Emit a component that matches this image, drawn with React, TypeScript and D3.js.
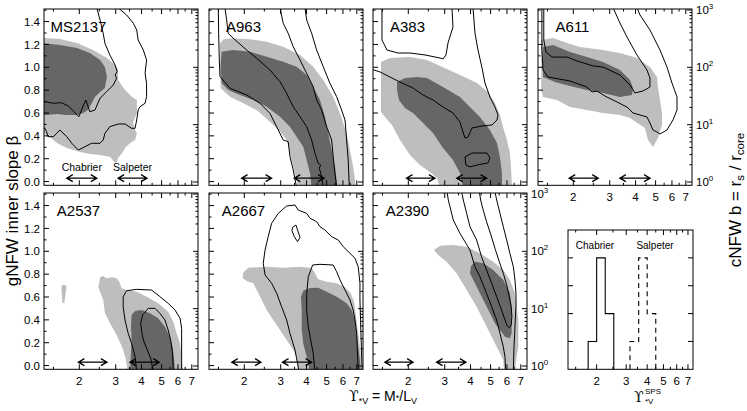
import React from "react";
import * as d3 from "d3";

type P = [number, number];

const LIGHT = "#bebebe";
const DARK = "#666666";
const FONT = "'Liberation Sans', Arial, Helvetica, sans-serif";
const SYMFONT = "'DejaVu Serif', 'Liberation Serif', serif";

// ---------- axis values ----------
const xTickValues = [2, 3, 4, 5, 6, 7];
const xMinorValues = [1.5, 2.5, 3.5, 4.5, 5.5, 6.5];
const betaTickValues = [0, 0.2, 0.4, 0.6, 0.8, 1.0, 1.2, 1.4];
const betaMinorValues = [0.1, 0.3, 0.5, 0.7, 0.9, 1.1, 1.3, 1.5];
const bTickValues = [1, 10, 100, 1000];
const bTickExponents = ["0", "1", "2", "3"];
const histCountTicks = [1, 2, 3, 4];

// ---------- MS2137 (gNFW) ----------
const ms2137Light: P[] = [[1.33,1.256],[1.61,1.247],[1.95,1.212],[2.33,1.151],[2.72,1.081],[2.98,1.02],[3.08,0.976],[3.08,0.889],[3.33,0.801],[3.6,0.74],[3.8,0.714],[3.8,0.652],[3.8,0.6],[3.64,0.521],[3.72,0.451],[3.8,0.425],[3.72,0.364],[3.52,0.337],[3.33,0.294],[3.22,0.25],[3.08,0.206],[3.04,0.171],[2.98,0.162],[2.82,0.215],[2.52,0.232],[2.25,0.241],[2.02,0.259],[1.74,0.294],[1.56,0.337],[1.44,0.39],[1.33,0.434]];
const ms2137Dark: P[] = [[1.33,1.212],[1.61,1.195],[1.95,1.169],[2.25,1.125],[2.52,1.064],[2.66,1.003],[2.72,0.915],[2.66,0.819],[2.52,0.784],[2.38,0.74],[2.3,0.688],[2.2,0.626],[2.09,0.6],[1.95,0.583],[1.74,0.583],[1.56,0.591],[1.4,0.583],[1.33,0.583]];
const ms2137Inner: P[] = [[2.43,1.52],[2.52,1.414],[2.61,1.297],[2.66,1.21],[2.81,1.108],[2.98,1.02],[3.05,0.961],[2.98,0.932],[3.03,0.904],[2.92,0.845],[2.71,0.786],[2.52,0.729],[2.38,0.626],[2.25,0.611],[2.15,0.714],[2.08,0.655],[1.99,0.568],[1.89,0.611],[1.77,0.661],[1.64,0.69],[1.5,0.685],[1.365,0.699],[1.3,0.7]];
const ms2137Outer: P[] = [[3.085,1.52],[3.39,1.457],[3.65,1.385],[3.79,1.326],[3.85,1.239],[4.08,1.151],[4.23,1.064],[4.16,0.947],[4.23,0.86],[4.23,0.743],[4.16,0.685],[3.93,0.655],[3.85,0.626],[3.79,0.539],[3.72,0.466],[3.58,0.466],[3.33,0.504],[3.085,0.504],[2.81,0.48],[2.66,0.422],[2.61,0.364],[2.52,0.335],[2.29,0.335],[2.13,0.305],[1.98,0.276],[1.84,0.335],[1.74,0.393],[1.61,0.451],[1.5,0.393],[1.41,0.393],[1.39,0.436],[1.365,0.466],[1.3,0.47]];
const ms2137Chab: P = [1.74, 2.43];
const ms2137Salp: P = [3.08, 4.25];

// ---------- A963 (gNFW) ----------
const a963Light: P[] = [[1.526,1.21],[1.588,1.245],[1.768,1.254],[2.131,1.245],[2.566,1.224],[3.085,1.18],[3.72,1.108],[4.308,1.005],[4.816,0.889],[5.38,0.743],[5.8,0.597],[6.25,0.422],[6.49,0.276],[6.72,0.13],[6.86,0.014],[6.93,-0.05],[3.645,-0.05],[3.58,0.014],[3.448,0.13],[3.326,0.247],[3.205,0.364],[2.976,0.436],[2.662,0.524],[2.295,0.626],[1.977,0.685],[1.706,0.743],[1.538,0.816],[1.526,1.005]];
const a963Dark: P[] = [[1.554,1.136],[1.768,1.151],[2.131,1.136],[2.566,1.093],[3.085,1.049],[3.58,1.005],[4.005,0.933],[4.308,0.83],[4.646,0.714],[4.91,0.568],[5.09,0.422],[5.29,0.276],[5.49,0.13],[5.593,0.014],[5.63,-0.05],[4.234,-0.05],[4.157,0.072],[4.005,0.189],[3.855,0.305],[3.58,0.393],[3.326,0.48],[2.976,0.568],[2.566,0.655],[2.209,0.714],[1.907,0.758],[1.672,0.801],[1.554,0.86],[1.538,1.005]];
const a963Line1: P[] = [[1.497,1.52],[1.503,1.297],[1.514,1.064],[1.526,0.918],[1.706,0.816],[2.053,0.758],[2.382,0.685],[2.662,0.597],[2.868,0.48],[3.085,0.364],[3.261,0.349],[3.326,0.218],[3.448,0.101],[3.58,-0.05]];
const a963Line2: P[] = [[1.613,1.52],[1.643,1.414],[1.672,1.297],[1.768,1.254],[2.053,1.151],[2.295,1.079],[2.662,0.976],[2.976,0.874],[3.205,0.772],[3.448,0.655],[3.72,0.568],[4.005,0.48],[4.234,0.364],[4.394,0.247],[4.555,0.16],[4.68,0.145],[4.61,0.116],[4.733,0.043],[4.816,-0.05]];
const a963Line3: P[] = [[2.976,1.52],[3.085,1.385],[3.261,1.297],[3.448,1.18],[3.72,1.064],[4.005,0.947],[4.308,0.83],[4.476,0.714],[4.733,0.626],[5.003,0.48],[5.29,0.364],[5.38,0.218],[5.49,0.072],[5.593,-0.05]];
const a963Line4: P[] = [[3.93,1.52],[4.005,1.414],[4.234,1.297],[4.476,1.151],[4.816,1.005],[5.19,0.86],[5.593,0.743],[5.91,0.626],[6.14,0.539],[6.25,0.364],[6.36,0.189],[6.44,-0.05]];
const a963Chab: P = [1.94, 2.71];
const a963Salp: P = [3.49, 4.86];

// ---------- A383 (gNFW) ----------
const a383Light: P[] = [[1.476,1.046],[1.63,1.081],[2.037,1.09],[2.462,1.064],[2.943,1.0],[3.555,0.933],[4.296,0.863],[4.857,0.784],[5.249,0.688],[5.55,0.583],[5.741,0.478],[6.0,0.364],[6.2,0.25],[6.27,0.145],[6.34,-0.05],[2.845,-0.05],[2.752,0.031],[2.546,0.084],[2.277,0.145],[2.037,0.233],[1.822,0.364],[1.667,0.495],[1.542,0.565],[1.476,0.609]];
const a383Dark: P[] = [[1.763,0.871],[1.928,0.906],[2.203,0.915],[2.462,0.906],[2.943,0.828],[3.555,0.74],[3.974,0.653],[4.44,0.565],[4.964,0.451],[5.37,0.338],[5.55,0.215],[5.674,0.075],[5.674,-0.05],[3.678,-0.05],[3.555,0.075],[3.29,0.189],[2.943,0.293],[2.633,0.425],[2.356,0.513],[2.108,0.6],[1.928,0.644],[1.803,0.714],[1.763,0.801]];
const a383LineA: P[] = [[1.492,1.52],[1.492,1.239],[1.578,1.151],[1.783,1.125],[2.037,1.125],[2.408,1.108],[2.845,1.081],[2.943,1.073],[3.043,1.108],[3.112,1.213],[3.29,1.353],[3.252,1.52]];
const a383LineB: P[] = [[4.111,1.52],[4.203,1.3],[4.346,1.151],[4.54,1.0],[4.697,0.863],[4.964,0.74],[5.249,0.653],[5.43,0.583],[5.37,0.539],[5.08,0.495],[4.54,0.486],[4.064,0.469],[3.888,0.39],[3.76,0.381],[3.678,0.434],[3.555,0.521],[3.29,0.6],[2.943,0.653],[2.633,0.714],[2.356,0.758],[2.108,0.819],[1.822,0.871],[1.63,0.915],[1.46,0.959],[1.365,0.976],[1.3,0.98]];
const a383Loop: P[] = [[3.76,0.215],[4.064,0.25],[4.8,0.25],[4.964,0.206],[4.857,0.163],[4.296,0.145],[3.974,0.128],[3.8,0.145]];
const a383Chab: P = [1.96, 2.69];
const a383Salp: P = [3.43, 4.78];

// ---------- A611 (cNFW, y = b) ----------
const a611Light: P[] = [[1.4,300],[1.595,325],[1.928,255],[2.155,226],[2.784,201],[3.363,178],[4.064,146],[4.697,101],[5.08,67.8],[5.136,45.4],[5.249,26.9],[5.37,16.0],[5.37,9.87],[5.136,5.85],[4.857,4.08],[4.595,5.4],[4.44,8.75],[3.76,13.1],[3.363,14.7],[2.784,16.0],[2.328,18.0],[1.928,20.3],[1.667,26.9],[1.428,30.4],[1.4,40.3]];
const a611Dark: P[] = [[1.428,226],[1.595,245],[1.928,185],[2.328,151],[2.784,124],[3.363,90],[3.76,60.1],[3.888,43.6],[3.843,32.9],[3.363,30.4],[2.784,35.7],[2.328,40.3],[1.928,47.3],[1.63,55.5],[1.428,67.8]];
const a611Inner: P[] = [[1.44,1100],[1.44,300],[1.476,185],[1.578,151],[1.865,151],[2.085,129],[2.491,106],[2.784,101],[3.363,73.5],[3.76,49.2],[3.974,35.7],[4.346,38.7],[4.697,45.4],[4.697,65.2],[4.54,90],[4.064,164],[3.635,338],[3.363,593],[3.112,1100]];
const a611Outer: P[] = [[1.41,1100],[1.41,201],[1.428,90],[1.509,67.8],[1.928,57.8],[2.328,45.4],[2.462,37.1],[2.604,38.7],[2.845,31.6],[3.112,26.9],[3.635,20.3],[3.888,16.0],[4.54,13.6],[4.697,10.7],[4.857,8.07],[5.08,7.45],[5.249,6.88],[5.678,8.07],[6.07,12.1],[6.347,18.0],[6.347,30.4],[6.0,53.3],[5.678,101],[5.249,201],[4.697,448],[4.203,819],[4.064,1100]];
const a611Chab: P = [1.91, 2.64];
const a611Salp: P = [3.36, 4.7];

// ---------- A2537 (gNFW) ----------
const a2537Light: P[] = [[2.47,0.69],[2.499,0.734],[2.52,0.772],[2.61,0.784],[2.712,0.764],[2.868,0.772],[3.03,0.764],[3.122,0.734],[3.205,0.676],[3.39,0.661],[3.79,0.646],[4.234,0.603],[4.816,0.545],[5.38,0.471],[5.695,0.384],[5.91,0.282],[6.14,0.195],[6.25,0.078],[6.33,-0.05],[3.425,-0.05],[3.363,0.049],[3.24,0.151],[3.03,0.268],[2.815,0.37],[2.662,0.457],[2.61,0.574],[2.52,0.646]];
const a2537Blob: P[] = [[1.64,0.696],[1.677,0.709],[1.734,0.696],[1.725,0.653],[1.706,0.6],[1.696,0.548],[1.658,0.548],[1.649,0.609],[1.64,0.653]];
const a2537Dark: P[] = [[3.58,0.443],[3.72,0.478],[4.005,0.486],[4.394,0.457],[4.816,0.414],[5.19,0.34],[5.49,0.253],[5.65,0.165],[5.741,0.064],[5.806,-0.05],[3.517,-0.05],[3.545,0.078],[3.58,0.224],[3.557,0.34]];
const a2537Outer: P[] = [[3.79,-0.05],[3.72,0.078],[3.58,0.195],[3.448,0.282],[3.326,0.399],[3.261,0.515],[3.261,0.603],[3.39,0.655],[3.79,0.667],[4.476,0.661],[4.91,0.603],[5.38,0.545],[5.806,0.486],[6.14,0.414],[6.25,0.326],[6.25,-0.05]];
const a2537Inner: P[] = [[4.555,-0.05],[4.43,0.064],[4.234,0.151],[4.08,0.224],[4.005,0.296],[3.96,0.37],[4.05,0.443],[4.308,0.501],[4.646,0.501],[4.91,0.457],[5.19,0.399],[5.38,0.311],[5.53,0.224],[5.65,0.107],[5.695,-0.05]];
const a2537Chab: P = [1.98, 2.72];
const a2537Salp: P = [3.52, 4.87];

// ---------- A2667 (gNFW) ----------
const a2667Light: P[] = [[1.963,0.764],[1.977,0.813],[2.089,0.856],[2.566,0.865],[3.085,0.856],[3.72,0.865],[4.157,0.856],[4.308,0.836],[4.555,0.755],[5.003,0.734],[5.593,0.72],[6.14,0.685],[6.54,0.632],[6.785,0.559],[6.91,0.457],[7.04,0.34],[7.17,0.224],[7.31,0.107],[7.38,-0.05],[3.645,-0.05],[3.58,0.078],[3.448,0.136],[3.205,0.224],[2.976,0.311],[2.76,0.399],[2.566,0.486],[2.427,0.574],[2.295,0.661],[2.209,0.72],[2.053,0.74]];
const a2667Dark: P[] = [[3.76,0.603],[3.855,0.655],[4.157,0.679],[4.555,0.681],[5.003,0.646],[5.593,0.603],[6.25,0.545],[6.61,0.486],[6.86,0.399],[6.99,0.282],[7.11,0.165],[7.25,0.049],[7.31,-0.05],[4.157,-0.05],[4.005,0.078],[3.855,0.195],[3.79,0.311],[3.79,0.486]];
const a2667Outer: P[] = [[3.678,-0.05],[3.517,0.136],[3.326,0.282],[3.205,0.399],[3.03,0.515],[2.868,0.632],[2.712,0.72],[2.52,0.793],[2.47,0.895],[2.52,1.011],[2.61,1.128],[2.712,1.245],[2.92,1.332],[3.205,1.396],[3.517,1.405],[3.645,1.361],[4.005,1.332],[4.157,1.289],[4.476,1.259],[4.646,1.215],[4.91,1.186],[5.29,1.128],[5.695,1.099],[6.02,1.04],[6.49,0.982],[6.86,0.939],[7.11,0.865],[7.25,0.72],[7.25,0.574],[7.33,0.282],[7.43,-0.05]];
const a2667Inner: P[] = [[4.394,-0.05],[4.308,0.107],[4.19,0.224],[4.08,0.34],[4.005,0.486],[4.005,0.632],[4.08,0.778],[4.28,0.88],[4.646,0.886],[5.38,0.88],[5.593,0.821],[5.806,0.749],[6.14,0.661],[6.49,0.574],[6.72,0.486],[6.86,0.399],[6.99,0.282],[7.04,0.136],[7.11,-0.05]];
const a2667Loop: P[] = [[3.425,1.21],[3.555,1.23],[3.62,1.186],[3.72,1.122],[3.62,1.084],[3.49,1.128],[3.4,1.18]];
const a2667Chab: P = [1.74, 2.41];
const a2667Salp: P = [3.06, 4.23];

// ---------- A2390 (cNFW, y = b) ----------
const a2390Light: P[] = [[2.662,105.5],[2.845,125.4],[3.3,129],[3.83,120.5],[4.44,92.4],[5.15,65.9],[5.76,47.3],[6.2,31.6],[6.56,18.5],[6.68,10.8],[6.81,6.34],[6.81,3.72],[6.81,2.17],[6.68,1.45],[6.56,0.8],[5.806,0.8],[5.76,1.27],[5.35,2.17],[4.964,3.72],[4.61,6.34],[4.28,10.8],[3.83,21.2],[3.425,41.4],[3.064,65.9],[2.79,86.3]];
const a2390Dark: P[] = [[3.974,41.4],[4.02,55.5],[4.203,65.9],[4.61,61.8],[5.15,47.3],[5.76,31.6],[6.2,18.5],[6.32,10.8],[6.32,6.34],[6.32,3.72],[6.2,3.04],[5.87,3.24],[5.55,4.25],[5.249,5.56],[4.964,8.3],[4.697,12.4],[4.44,18.5],[4.203,27.7]];
const a2390Line1: P[] = [[3.078,1100],[3.122,786],[3.3,352],[3.555,206],[3.974,105.5],[4.203,54.0],[4.44,36.1],[4.78,18.5],[5.06,10.8],[5.35,6.34],[5.55,3.72],[5.76,2.17],[5.87,1.45],[5.91,0.8]];
const a2390LineU: P[] = [[3.62,1100],[3.69,786],[3.83,461],[3.974,269],[4.28,158],[4.52,80.6],[4.78,47.3],[5.06,27.7],[5.35,16.2],[5.65,9.48],[5.87,6.34],[6.02,4.99],[6.16,4.66],[6.29,5.19],[6.34,7.24],[6.29,10.8],[6.16,16.2],[5.98,25.9],[5.76,41.4],[5.51,65.9],[5.249,113],[5.02,193],[4.78,329],[4.58,563],[4.476,786],[4.41,1100]];
const a2390Line4: P[] = [[5.249,1100],[5.35,786],[5.55,461],[5.76,269],[5.98,158],[6.2,92.4],[6.44,54.0],[6.56,31.6],[6.635,18.5],[6.635,10.8],[6.58,6.34],[6.54,3.72],[6.49,2.17],[6.44,0.8]];
const a2390Chab: P = [1.54, 2.11];
const a2390Salp: P = [2.74, 3.8];

// ---------- SPS histogram ----------
const chabEdges = [1.78, 2.0, 2.25, 2.53];
const chabCounts = [1, 4, 2];
const salpEdges = [3.16, 3.56, 4.0, 4.5];
const salpCounts = [1, 4, 2];

// ---------- layout ----------
const colX = [44, 209, 373, 538];
const rowY = [9, 193];
const PW = 154;
const PH = 176.3;
const HX = 568, HY = 230, HW = 125, HH = 139.3;

type Panel = {
  name: string; col: number; row: number; kind: "g" | "c";
  light: P[][]; dark: P[][]; lines: P[][]; loops: P[][];
  chab: P; salp: P;
  leftLabels?: boolean; rightLabels?: boolean; bottomLabels?: boolean; imfText?: boolean;
};

const panels: Panel[] = [
  { name: "MS2137", col: 0, row: 0, kind: "g", light: [ms2137Light], dark: [ms2137Dark], lines: [ms2137Inner, ms2137Outer], loops: [], chab: ms2137Chab, salp: ms2137Salp, leftLabels: true, imfText: true },
  { name: "A963", col: 1, row: 0, kind: "g", light: [a963Light], dark: [a963Dark], lines: [a963Line1, a963Line2, a963Line3, a963Line4], loops: [], chab: a963Chab, salp: a963Salp },
  { name: "A383", col: 2, row: 0, kind: "g", light: [a383Light], dark: [a383Dark], lines: [a383LineA, a383LineB], loops: [a383Loop], chab: a383Chab, salp: a383Salp },
  { name: "A611", col: 3, row: 0, kind: "c", light: [a611Light], dark: [a611Dark], lines: [a611Inner, a611Outer], loops: [], chab: a611Chab, salp: a611Salp, rightLabels: true, bottomLabels: true },
  { name: "A2537", col: 0, row: 1, kind: "g", light: [a2537Light, a2537Blob], dark: [a2537Dark], lines: [a2537Outer, a2537Inner], loops: [], chab: a2537Chab, salp: a2537Salp, leftLabels: true, bottomLabels: true },
  { name: "A2667", col: 1, row: 1, kind: "g", light: [a2667Light], dark: [a2667Dark], lines: [a2667Outer, a2667Inner], loops: [a2667Loop], chab: a2667Chab, salp: a2667Salp, bottomLabels: true },
  { name: "A2390", col: 2, row: 1, kind: "c", light: [a2390Light], dark: [a2390Dark], lines: [a2390Line1, a2390LineU, a2390Line4], loops: [], chab: a2390Chab, salp: a2390Salp, rightLabels: true, bottomLabels: true },
];

function minorLogTicks(): number[] {
  const out: number[] = [];
  for (const dec of [1, 10, 100]) for (let m = 2; m <= 9; m++) out.push(m * dec);
  return out;
}

export default function App() {
  const x = d3.scaleLog().domain([1.35, 7.5]).range([0, PW]);
  const yB = d3.scaleLinear().domain([-0.0326, 1.51]).range([PH, 0]);
  const yC = d3.scaleLog().domain([0.876, 1041]).range([PH, 0]);
  const hx = d3.scaleLog().domain([1.35, 7.5]).range([0, HW]);
  const hy = d3.scaleLinear().domain([0, 5]).range([HH, 0]);
  const bMinor = minorLogTicks();

  const arrowPath = (x1: number, x2: number, y: number) =>
    `M${x1},${y}L${x2},${y}M${x1 + 6},${y - 3.5}L${x1},${y}L${x1 + 6},${y + 3.5}M${x2 - 6},${y - 3.5}L${x2},${y}L${x2 - 6},${y + 3.5}`;

  const renderPanel = (p: Panel, i: number) => {
    const ox = colX[p.col], oy = rowY[p.row];
    const yS: any = p.kind === "c" ? yC : yB;
    const open = d3.line<P>().x((d) => x(d[0])).y((d) => yS(d[1]));
    const closed = d3.line<P>().x((d) => x(d[0])).y((d) => yS(d[1])).curve(d3.curveLinearClosed);
    const ay = yB(0.03);
    const tickStroke = { stroke: "#000", strokeWidth: 1 };
    return (
      <g key={p.name} transform={`translate(${ox},${oy})`}>
        <defs>
          <clipPath id={`clip${i}`}><rect x={0} y={0} width={PW} height={PH} /></clipPath>
        </defs>
        <g clipPath={`url(#clip${i})`}>
          {p.light.map((poly, k) => <path key={`l${k}`} d={closed(poly) || ""} fill={LIGHT} />)}
          {p.dark.map((poly, k) => <path key={`d${k}`} d={closed(poly) || ""} fill={DARK} />)}
          {p.lines.map((ln, k) => <path key={`n${k}`} d={open(ln) || ""} fill="none" stroke="#000" strokeWidth={1} strokeLinejoin="round" />)}
          {p.loops.map((ln, k) => <path key={`o${k}`} d={closed(ln) || ""} fill="none" stroke="#000" strokeWidth={1} />)}
        </g>
        <path d={arrowPath(x(p.chab[0]), x(p.chab[1]), ay)} fill="none" stroke="#000" strokeWidth={1.3} />
        <path d={arrowPath(x(p.salp[0]), x(p.salp[1]), ay)} fill="none" stroke="#000" strokeWidth={1.3} />
        {p.imfText && (
          <g fontFamily={FONT} fontSize={10.5} textAnchor="middle">
            <text x={x(Math.sqrt(p.chab[0] * p.chab[1]))} y={ay - 7}>Chabrier</text>
            <text x={x(Math.sqrt(p.salp[0] * p.salp[1]))} y={ay - 7}>Salpeter</text>
          </g>
        )}
        <text x={34.5} y={23} fontFamily={FONT} fontSize={15} textAnchor="middle">{p.name}</text>
        <rect x={0} y={0} width={PW} height={PH} fill="none" stroke="#000" strokeWidth={1} />
        {xTickValues.map((v) => (
          <g key={`xt${v}`} {...tickStroke}>
            <line x1={x(v)} x2={x(v)} y1={PH} y2={PH - 5} />
            <line x1={x(v)} x2={x(v)} y1={0} y2={5} />
          </g>
        ))}
        {xMinorValues.map((v) => (
          <g key={`xm${v}`} {...tickStroke}>
            <line x1={x(v)} x2={x(v)} y1={PH} y2={PH - 2.5} />
            <line x1={x(v)} x2={x(v)} y1={0} y2={2.5} />
          </g>
        ))}
        {betaTickValues.map((v) => <line key={`bt${v}`} x1={0} x2={5} y1={yB(v)} y2={yB(v)} {...tickStroke} />)}
        {betaMinorValues.map((v) => <line key={`bm${v}`} x1={0} x2={2.5} y1={yB(v)} y2={yB(v)} {...tickStroke} />)}
        {bTickValues.map((v) => <line key={`ct${v}`} x1={PW} x2={PW - 5} y1={yC(v)} y2={yC(v)} {...tickStroke} />)}
        {bMinor.map((v) => <line key={`cm${v}`} x1={PW} x2={PW - 2.5} y1={yC(v)} y2={yC(v)} {...tickStroke} />)}
        {p.leftLabels && betaTickValues.map((v) => (
          <text key={`bl${v}`} x={-4} y={yB(v)} dy="0.36em" fontFamily={FONT} fontSize={11.5} textAnchor="end">{d3.format(".1f")(v)}</text>
        ))}
        {p.rightLabels && bTickValues.map((v, k) => (
          <text key={`cl${v}`} x={PW + 4} y={yC(v)} dy="0.36em" fontFamily={FONT} fontSize={11.5}>
            10<tspan fontSize={8} dy="-5">{bTickExponents[k]}</tspan>
          </text>
        ))}
        {p.bottomLabels && xTickValues.map((v) => (
          <text key={`xl${v}`} x={x(v)} y={PH + 15.5} fontFamily={FONT} fontSize={11.5} textAnchor="middle">{v}</text>
        ))}
      </g>
    );
  };

  const step = (edges: number[], counts: number[]): P[] => {
    const pts: P[] = [[edges[0], 0]];
    counts.forEach((c, k) => { pts.push([edges[k], c]); pts.push([edges[k + 1], c]); });
    pts.push([edges[edges.length - 1], 0]);
    return pts;
  };
  const histLine = d3.line<P>().x((d) => hx(d[0])).y((d) => hy(d[1]));

  return (
    <svg width={747} height={411} style={{ position: "absolute", left: 0, top: 0, background: "#fff" }}>
      <rect width={747} height={411} fill="#fff" />
      {panels.map(renderPanel)}

      <g transform={`translate(${HX},${HY})`}>
        <path d={histLine(step(chabEdges, chabCounts)) || ""} fill="none" stroke="#000" strokeWidth={1.1} />
        <path d={histLine(step(salpEdges, salpCounts)) || ""} fill="none" stroke="#000" strokeWidth={1.1} strokeDasharray="5,4" />
        <rect x={0} y={0} width={HW} height={HH} fill="none" stroke="#000" strokeWidth={1} />
        {xTickValues.map((v) => (
          <g key={`hxt${v}`} stroke="#000">
            <line x1={hx(v)} x2={hx(v)} y1={HH} y2={HH - 5} />
            <line x1={hx(v)} x2={hx(v)} y1={0} y2={5} />
          </g>
        ))}
        {xMinorValues.map((v) => (
          <g key={`hxm${v}`} stroke="#000">
            <line x1={hx(v)} x2={hx(v)} y1={HH} y2={HH - 2.5} />
            <line x1={hx(v)} x2={hx(v)} y1={0} y2={2.5} />
          </g>
        ))}
        {histCountTicks.map((v) => (
          <g key={`hyt${v}`} stroke="#000">
            <line x1={0} x2={5} y1={hy(v)} y2={hy(v)} />
            <line x1={HW} x2={HW - 5} y1={hy(v)} y2={hy(v)} />
          </g>
        ))}
        {xTickValues.map((v) => (
          <text key={`hxl${v}`} x={hx(v)} y={HH + 15.5} fontFamily={FONT} fontSize={11.5} textAnchor="middle">{v}</text>
        ))}
        <text x={27} y={19} fontFamily={FONT} fontSize={10} textAnchor="middle">Chabrier</text>
        <text x={87} y={19} fontFamily={FONT} fontSize={10} textAnchor="middle">Salpeter</text>
      </g>

      <text transform="translate(18,211) rotate(-90)" fontFamily={FONT} fontSize={17} textAnchor="middle">gNFW inner slope β</text>
      <text transform="translate(741,200) rotate(-90)" fontFamily={FONT} fontSize={17} textAnchor="middle">
        cNFW b = r<tspan fontSize={11.5} dy="3">s</tspan><tspan dy="-3"> / r</tspan><tspan fontSize={11.5} dy="3">core</tspan>
      </text>
      <text x={383} y={401} fontFamily={FONT} fontSize={14} textAnchor="middle">
        <tspan fontFamily={SYMFONT}>ϒ</tspan><tspan fontSize={9} dy="3">*V</tspan><tspan dy="-3"> = M</tspan><tspan fontSize={9}>*</tspan>/L<tspan fontSize={9} dy="3">V</tspan>
      </text>
      <g fontFamily={FONT}>
        <text x={634} y={402} fontSize={14} fontFamily={SYMFONT}>ϒ</text>
        <text x={645} y={394} fontSize={8}>SPS</text>
        <text x={645} y={404} fontSize={8}>*V</text>
      </g>
    </svg>
  );
}
